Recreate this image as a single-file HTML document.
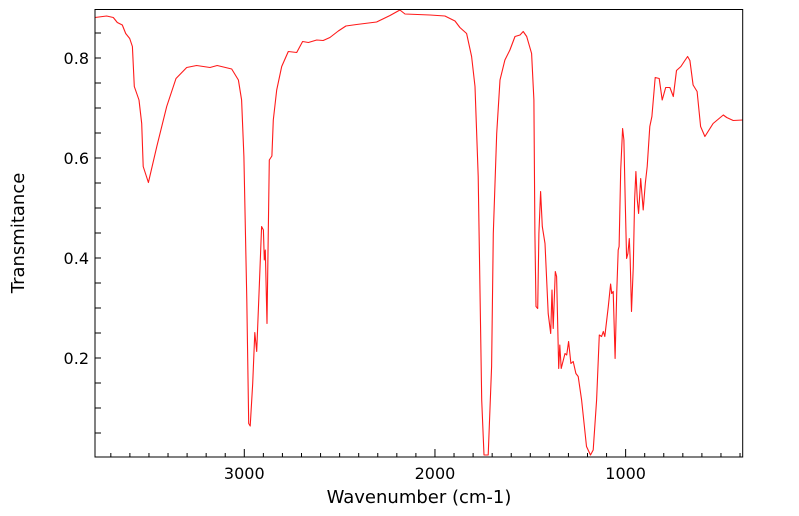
<!DOCTYPE html>
<html><head><meta charset="utf-8"><style>
html,body{margin:0;padding:0;background:#fff;}
svg{display:block;font-family:"DejaVu Sans","Liberation Sans",sans-serif;}
</style></head><body>
<svg id="chart" width="799" height="516" xmlns="http://www.w3.org/2000/svg"></svg>
<script>
const wavenumbers=[3783,3722,3687,3666,3640,3622,3601,3587,3577,3552,3538,3530,3503,3459,3407,3358,3302,3250,3180,3142,3066,3031,3014,3002,2987,2977,2969,2956,2945,2935,2921,2909,2900,2895,2890,2881,2869,2855,2848,2830,2804,2769,2725,2694,2664,2620,2586,2551,2507,2467,2411,2306,2236,2184,2157,2026,1948,1895,1869,1834,1808,1790,1773,1755,1743,1721,1703,1694,1676,1659,1633,1607,1580,1554,1537,1519,1493,1481,1476,1470,1461,1455,1446,1437,1423,1406,1393,1386,1380,1369,1362,1351,1345,1338,1318,1309,1299,1287,1275,1261,1249,1231,1205,1184,1170,1152,1138,1126,1117,1109,1091,1079,1073,1065,1055,1047,1039,1034,1026,1016,1009,1002,995,988,981,976,969,960,953,946,939,932,921,908,897,887,873,862,845,824,808,790,768,750,733,710,693,675,663,646,625,607,584,541,488,470,436,386];
const transmittance=[0.881,0.884,0.881,0.871,0.866,0.849,0.839,0.823,0.743,0.716,0.669,0.583,0.551,0.623,0.703,0.759,0.781,0.785,0.781,0.785,0.778,0.756,0.716,0.603,0.316,0.069,0.064,0.149,0.251,0.213,0.349,0.463,0.456,0.396,0.416,0.269,0.596,0.604,0.676,0.736,0.783,0.813,0.811,0.833,0.831,0.836,0.835,0.841,0.854,0.864,0.867,0.872,0.885,0.896,0.888,0.886,0.884,0.874,0.861,0.849,0.803,0.743,0.563,0.116,0.006,0.006,0.183,0.449,0.649,0.756,0.796,0.816,0.843,0.846,0.853,0.843,0.809,0.716,0.449,0.303,0.299,0.449,0.533,0.463,0.429,0.289,0.249,0.336,0.259,0.373,0.363,0.179,0.226,0.179,0.209,0.206,0.233,0.189,0.193,0.169,0.163,0.116,0.023,0.006,0.016,0.116,0.246,0.243,0.253,0.243,0.303,0.348,0.329,0.333,0.199,0.329,0.416,0.423,0.576,0.659,0.636,0.516,0.399,0.409,0.439,0.396,0.293,0.383,0.516,0.573,0.516,0.489,0.559,0.496,0.549,0.583,0.663,0.683,0.761,0.759,0.716,0.741,0.741,0.723,0.775,0.783,0.793,0.803,0.795,0.746,0.733,0.663,0.643,0.669,0.686,0.681,0.675,0.676];
const xTicks=[3000,2000,1000];
const yTicks=[0.2,0.4,0.6,0.8];

const NS="http://www.w3.org/2000/svg";
const svg=document.getElementById('chart');
const L=95,R=742.7,T=9.5,B=457;
const xMin=3783,xMax=386,yMin=0.002,yMax=0.897;
function xs(w){return L+(xMin-w)/(xMin-xMax)*(R-L);}
function ys(v){return B-(v-yMin)/(yMax-yMin)*(B-T);}
function mk(tag,attrs){const e=document.createElementNS(NS,tag);for(const k in attrs)e.setAttribute(k,attrs[k]);svg.appendChild(e);return e;}

for(let w=3700;w>=400;w-=100){
  const major=w%1000===0;
  const t=mk('line',{x1:xs(w),x2:xs(w),y1:B,y2:B-(major?8:4),stroke:'#000','stroke-width':1});
  
  
}
for(let v=0.05;v<0.9;v+=0.05){
  const t=mk('line',{x1:L,x2:L+6,y1:ys(v),y2:ys(v),stroke:'#000','stroke-width':1});
  
  
}
xTicks.forEach(w=>{
  const t=mk('text',{x:xs(w),y:479,'text-anchor':'middle','font-size':16,fill:'#000'});
  t.textContent=w;
  
  
});
yTicks.forEach(v=>{
  const t=mk('text',{x:89,y:ys(v)+6,'text-anchor':'end','font-size':16,fill:'#000'});
  t.textContent=v.toFixed(1);
  
  
});
let d='';
wavenumbers.forEach((w,i)=>{d+=(i?'L':'M')+xs(w).toFixed(1)+','+ys(transmittance[i]).toFixed(1);});
const p=mk('path',{d:d,fill:'none',stroke:'#ff1a1a','stroke-width':1.1,'stroke-linejoin':'round'});


const f=mk('rect',{x:L,y:T,width:R-L,height:B-T,fill:'none',stroke:'#000','stroke-width':1});


const xt=mk('text',{x:419,y:503,'text-anchor':'middle','font-size':18,fill:'#000'});
xt.textContent='Wavenumber (cm-1)';


const yt=mk('text',{x:0,y:0,'text-anchor':'middle','font-size':18,fill:'#000',transform:'translate(24,233) rotate(-90)'});
yt.textContent='Transmitance';


</script>
</body></html>
